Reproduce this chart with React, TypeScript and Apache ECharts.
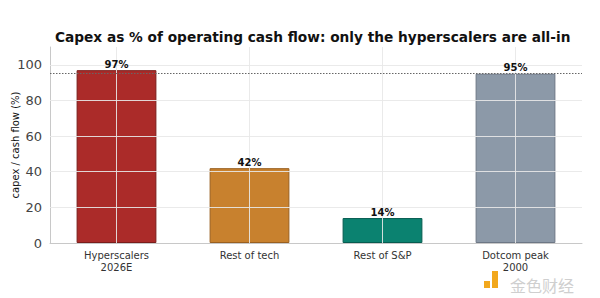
import React, { useEffect, useRef } from "react";
import * as echarts from "echarts";

const categories = ["Hyperscalers\n2026E", "Rest of tech", "Rest of S&P", "Dotcom peak\n2000"];
const values = [97, 42, 14, 95];
const barColors = ["#ab2b29", "#c8812e", "#0b8270", "#8c99a8"];
const borderColors = ["#7a1d1b", "#9a6020", "#075c50", "#6d7785"];
const yTicks = [20, 40, 60, 80, 100];
const refLine = 95;

export default function App() {
  const ref = useRef<HTMLDivElement>(null);
  useEffect(() => {
    document.body.style.margin = "0";
    const chart = echarts.init(ref.current!, null, { renderer: "svg" });
    const font = "DejaVu Sans";
    const gridColor = "rgba(232,232,232,0.9)";
    chart.setOption({
      animation: false,
      textStyle: { fontFamily: font },
      title: {
        text: "Capex as % of operating cash flow: only the hyperscalers are all-in",
        left: 50,
        top: 25,
        textStyle: { fontSize: 13.7, fontWeight: "bold", color: "#111", fontFamily: font },
      },
      grid: { left: 50, right: 18, top: 47, bottom: 55, outerBoundsMode: "none", containLabel: false },
      xAxis: {
        type: "category",
        data: categories,
        axisLine: { lineStyle: { color: "#c8c8c8" } },
        axisTick: { show: false },
        axisLabel: { color: "#333", fontSize: 10, lineHeight: 12, margin: 6, fontFamily: font },
        splitLine: { show: false },
      },
      yAxis: {
        type: "value",
        min: 0,
        max: 110,
        interval: 20,
        name: "capex / cash flow (%)",
        nameLocation: "middle",
        nameGap: 30,
        nameMoveOverlap: false,
        nameTextStyle: { fontSize: 10, color: "#111", fontFamily: font },
        axisLine: { show: true, lineStyle: { color: "#c8c8c8" } },
        axisTick: { show: false },
        axisLabel: {
          color: "#444",
          fontSize: 13,
          margin: 8,
          fontFamily: font,
          formatter: (v: number) => (v > 100 ? "" : String(v)),
        },
        splitLine: { show: false },
      },
      series: [
        {
          type: "bar",
          barWidth: "60%",
          z: 2,
          data: values.map((v, i) => ({
            value: v,
            itemStyle: { color: barColors[i], borderColor: borderColors[i], borderWidth: 1 },
          })),
        },
        {
          type: "line",
          data: [],
          z: 3,
          silent: true,
          markLine: {
            silent: true,
            symbol: "none",
            label: { show: false },
            lineStyle: { type: "solid", color: gridColor, width: 1 },
            data: [
              ...yTicks.map((t) => ({ yAxis: t })),
              ...categories.map((c) => ({ xAxis: c })),
            ],
          },
        },
        {
          type: "line",
          data: [],
          z: 4,
          silent: true,
          markLine: {
            silent: true,
            symbol: "none",
            label: { show: false },
            lineStyle: { type: [1.5, 1.5], color: "#666", width: 1 },
            data: [{ yAxis: refLine }],
          },
        },
        {
          type: "bar",
          barWidth: "60%",
          barGap: "-100%",
          z: 5,
          silent: true,
          data: values,
          itemStyle: { color: "rgba(0,0,0,0)" },
          label: {
            show: true,
            position: "top",
            distance: 1,
            formatter: "{c}%",
            fontSize: 10,
            fontWeight: "bold",
            color: "#111",
            fontFamily: font,
          },
        },
      ],
      graphic: [
        {
          type: "rect",
          left: 484,
          top: 281,
          shape: { width: 6, height: 7 },
          style: { fill: "#f2a81d" },
        },
        {
          type: "rect",
          left: 492,
          top: 271,
          shape: { width: 6, height: 17 },
          style: { fill: "#f2a81d" },
        },
        {
          type: "text",
          left: 510,
          top: 277,
          style: { text: "金色财经", fontSize: 16, fill: "#cfcfcf", fontFamily: "Noto Sans CJK SC" },
        },
      ],
    });
    return () => chart.dispose();
  }, []);
  return <div ref={ref} style={{ width: 600, height: 298 }} />;
}
